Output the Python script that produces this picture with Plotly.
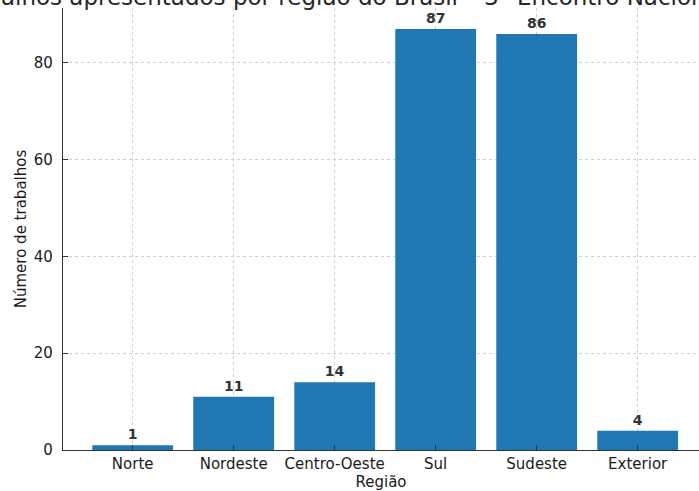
import plotly.graph_objects as go

regioes = ["Norte", "Nordeste", "Centro-Oeste", "Sul", "Sudeste", "Exterior"]
trabalhos = [1, 11, 14, 87, 86, 4]
y_ticks = [0, 20, 40, 60, 80]
titulo = "Número de trabalhos apresentados por região do Brasil – 3º Encontro Nacional"
x_titulo = "Região"
y_titulo = "Número de trabalhos"

W, H = 699, 491
ml, mr, mt, mb = 63, 0, 8, 41
pw = W - ml - mr
ph = H - mt - mb
ppu = 101.0
x0 = -0.69
x1 = x0 + pw / ppu
ymax = 91.35

FONT = "DejaVu Sans"
TXT = "#1a1a1a"

fig = go.Figure()
fig.add_trace(go.Bar(
    x=list(range(len(regioes))),
    y=trabalhos,
    width=0.8,
    marker=dict(color="#1f77b4", line=dict(width=0)),
    text=[str(v) for v in trabalhos],
    textposition="outside",
    cliponaxis=False,
    textfont=dict(family=FONT, size=14, color="#333333", weight="bold"),
    hoverinfo="skip",
))

fig.update_layout(
    width=W, height=H,
    margin=dict(l=ml, r=mr, t=mt, b=mb, pad=0),
    paper_bgcolor="white", plot_bgcolor="white",
    showlegend=False,
    bargap=0.2,
    font=dict(family=FONT, color=TXT),
)
fig.update_xaxes(
    range=[x0, x1],
    tickmode="array",
    tickvals=list(range(len(regioes))),
    ticktext=regioes,
    tickfont=dict(family=FONT, size=15, color=TXT),
    ticks="inside", ticklen=5, tickwidth=1, tickcolor="#333333",
    showline=True, linecolor="#333333", linewidth=1.2, mirror=False,
    showgrid=True, gridcolor="#cfcfcf", griddash="3px,3px", gridwidth=1,
    layer="above traces",
    zeroline=False,
    title=dict(text=x_titulo, font=dict(family=FONT, size=15, color=TXT), standoff=2),
    automargin=False,
)
fig.update_yaxes(
    range=[0, ymax],
    tickmode="array",
    tickvals=y_ticks,
    tickfont=dict(family=FONT, size=15, color=TXT),
    ticks="inside", ticklen=5, tickwidth=1, tickcolor="#333333",
    showline=True, linecolor="#333333", linewidth=1.2, mirror=False,
    showgrid=True, gridcolor="#cfcfcf", griddash="3px,3px", gridwidth=1,
    layer="above traces",
    zeroline=False,
    ticklabelstandoff=6,
    title=dict(text=y_titulo, font=dict(family=FONT, size=15, color=TXT), standoff=3),
    automargin=False,
)

fig.add_annotation(
    text=titulo,
    xref="paper", yref="paper",
    x=-(ml + 183) / pw, xanchor="left",
    y=1 - 4.5 / ph, yanchor="bottom",
    showarrow=False,
    font=dict(family=FONT, size=23, color="#262626"),
)

fig.write_html(
    "out.html",
    config={"displayModeBar": False},
    post_script="document.body.style.margin='0';document.body.style.overflow='hidden';",
)
